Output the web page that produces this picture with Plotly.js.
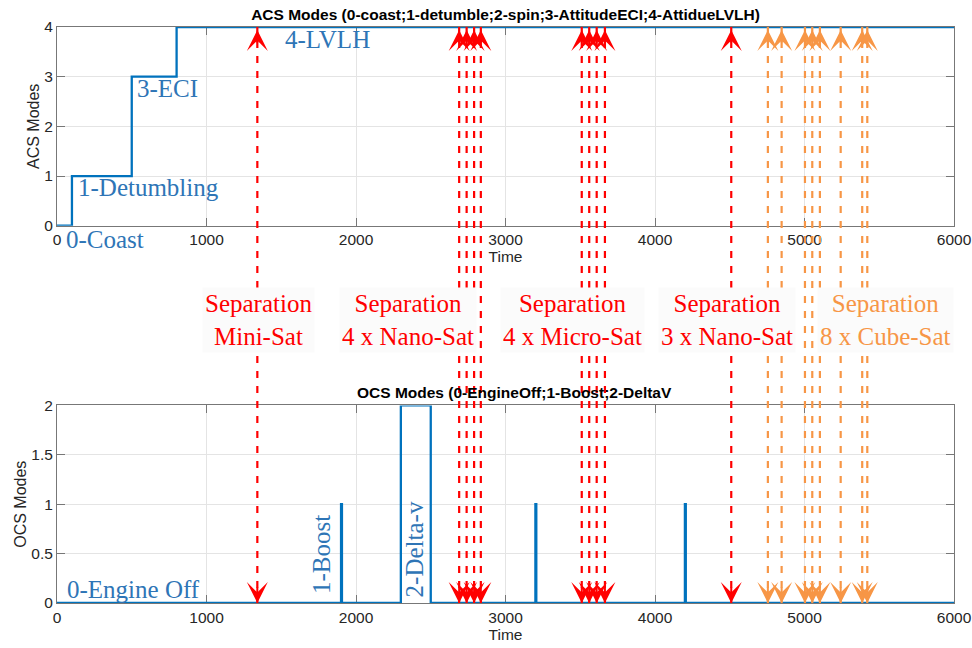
<!DOCTYPE html>
<html>
<head>
<meta charset="utf-8">
<script src="https://cdn.plot.ly/plotly-3.0.1.min.js"></script>
<style>html,body{margin:0;padding:0;background:#fff;}</style>
</head>
<body>
<div id="chart" style="width:972px;height:648px;"></div>
<script>
// ---- data ----
const acsTime = [0, 100, 500, 800, 6000];
const acsMode = [0, 1, 3, 4, 4];
const ocsTime = [0, 1900, 1906, 2300, 2500, 3200, 3206, 4200, 4206, 6000];
const ocsMode = [0, 1, 0, 2, 0, 1, 0, 1, 0, 0];
const sepMiniSat = [1340];
const sepNanoSat4 = [2690, 2740, 2790, 2835];
const sepMicroSat4 = [3510, 3560, 3610, 3665];
const sepNanoSat3 = [4510];
const sepCubeSat8 = [4755, 4847, 5003, 5052, 5103, 5242, 5386, 5420];
const sepLabels = ['Separation<br>Mini-Sat', 'Separation<br>4 x Nano-Sat', 'Separation<br>4 x Micro-Sat', 'Separation<br>3 x Nano-Sat', 'Separation<br>8 x Cube-Sat'];
const acsTickVals = [0, 1, 2, 3, 4];
const ocsTickVals = [0, 0.5, 1, 1.5, 2];
const ocsTickText = ['0', '0.5', '1', '1.5', '2'];
const timeTickVals = [0, 1000, 2000, 3000, 4000, 5000, 6000];
const acsTitle = 'ACS Modes (0-coast;1-detumble;2-spin;3-AttitudeECI;4-AttidueLVLH)';
const ocsTitle = 'OCS Modes (0-EngineOff;1-Boost;2-DeltaV';

// ---- styles ----
const BLUE = '#0072BD';
const TXTBLUE = '#2E75B6';
const RED = '#FF0000';
const ORANGE = '#F79646';
const serif = 'Liberation Serif, Times New Roman, serif';
const sans = 'Liberation Sans, Arial, sans-serif';

const groups = [
  {times: sepMiniSat, color: RED, label: sepLabels[0], lx: 1350},
  {times: sepNanoSat4, color: RED, label: sepLabels[1], lx: 2350},
  {times: sepMicroSat4, color: RED, label: sepLabels[2], lx: 3447},
  {times: sepNanoSat3, color: RED, label: sepLabels[3], lx: 4484},
  {times: sepCubeSat8, color: ORANGE, label: sepLabels[4], lx: 5545}
];

const traces = [
  {x: acsTime, y: acsMode, xaxis: 'x', yaxis: 'y', mode: 'lines', line: {shape: 'hv', color: BLUE, width: 2.3}, hoverinfo: 'skip'},
  {x: ocsTime, y: ocsMode, xaxis: 'x2', yaxis: 'y2', mode: 'lines', line: {shape: 'hv', color: BLUE, width: 2.3}, hoverinfo: 'skip'}
];

const acsMax = Math.max(...acsMode);
const plotH = 648 - 27 - 45;
const shapes = [];
const annotations = [];
groups.forEach(g => {
  g.times.forEach(t => {
    shapes.push({type: 'line', xref: 'x', yref: 'paper', x0: t, x1: t, y0: 0, y1: 1,
      line: {color: g.color, width: 2.2, dash: '7px,8px'}, layer: 'above'});
    annotations.push({x: t, y: acsMax, xref: 'x', yref: 'y', ax: 0, ay: 17, text: '', showarrow: true,
      arrowhead: 3, arrowsize: 1.75, arrowwidth: 2, arrowcolor: g.color, standoff: 3});
    annotations.push({x: t, y: 0, xref: 'x2', yref: 'y2', ax: 0, ay: -17, text: '', showarrow: true,
      arrowhead: 3, arrowsize: 1.75, arrowwidth: 2, arrowcolor: g.color, standoff: 0});
  });
  annotations.push({x: g.lx, y: 0.492, xref: 'x', yref: 'paper', text: g.label, showarrow: false,
    font: {family: serif, size: 25, color: g.color}, bgcolor: '#fbfbfb', borderpad: 2,
    xanchor: 'center', yanchor: 'middle'});
});

// blue mode labels
const modeLabels = [
  {x: 1808, y: 3.745, xref: 'x', yref: 'y', text: '4-LVLH'},
  {x: 741, y: 2.76, xref: 'x', yref: 'y', text: '3-ECI'},
  {x: 611, y: 0.767, xref: 'x', yref: 'y', text: '1-Detumbling'},
  {x: 319, y: (648 - 45 - 240) / plotH, xref: 'x', yref: 'paper', text: '0-Coast'},
  {x: 513, y: 0.135, xref: 'x2', yref: 'y2', text: '0-Engine Off'},
  {x: 1769, y: 0.49, xref: 'x2', yref: 'y2', text: '1-Boost', textangle: -90},
  {x: 2393, y: 0.54, xref: 'x2', yref: 'y2', text: '2-Delta-v', textangle: -90}
];
modeLabels.forEach(m => {
  annotations.push(Object.assign({showarrow: false, font: {family: serif, size: 25, color: TXTBLUE},
    xanchor: 'center', yanchor: 'middle'}, m));
});

// bottom subplot title
annotations.push({x: 0.51, y: (648 - 45 - 392) / plotH, xref: 'paper', yref: 'paper', text: '<b>' + ocsTitle + '</b>', showarrow: false,
  font: {family: sans, size: 15.5, color: '#000'}, xanchor: 'center', yanchor: 'middle'});

const axisCommon = {
  showline: true, linecolor: '#777', linewidth: 1, mirror: 'ticks',
  ticks: 'inside', ticklen: 8, tickcolor: '#777', tickwidth: 1,
  showgrid: true, gridcolor: '#e4e4e4', gridwidth: 1, zeroline: false,
  tickfont: {family: sans, size: 15.5, color: '#262626'}, layer: 'below traces'
};
const xCommon = Object.assign({}, axisCommon, {range: [0, 6000], tickvals: timeTickVals, ticktext: timeTickVals.map(String),
  title: {text: 'Time', font: {family: sans, size: 15.5, color: '#262626'}, standoff: 0}});

const layout = {
  width: 972, height: 648,
  margin: {l: 57, r: 18, t: 27, b: 45},
  paper_bgcolor: '#fff', plot_bgcolor: '#fff',
  showlegend: false,
  title: {text: '<b>' + acsTitle + '</b>', font: {family: sans, size: 15.5, color: '#000'},
    x: 0.5, xref: 'paper', xanchor: 'center', y: 1 - 15 / 648, yref: 'container', yanchor: 'middle'},
  xaxis: Object.assign({}, xCommon, {anchor: 'y', domain: [0, 1]}),
  yaxis: Object.assign({}, axisCommon, {domain: [0.655, 1], range: [0, 4], tickvals: acsTickVals, anchor: 'x',
    title: {text: 'ACS Modes', font: {family: sans, size: 16, color: '#262626'}, standoff: 0}}),
  xaxis2: Object.assign({}, xCommon, {anchor: 'y2', domain: [0, 1]}),
  yaxis2: Object.assign({}, axisCommon, {domain: [0, 0.343], range: [0, 2], tickvals: ocsTickVals, ticktext: ocsTickText, anchor: 'x2',
    title: {text: 'OCS Modes', font: {family: sans, size: 16, color: '#262626'}, standoff: 0}}),
  shapes: shapes,
  annotations: annotations
};

Plotly.newPlot('chart', traces, layout, {displayModeBar: false, staticPlot: true});
</script>
</body>
</html>
